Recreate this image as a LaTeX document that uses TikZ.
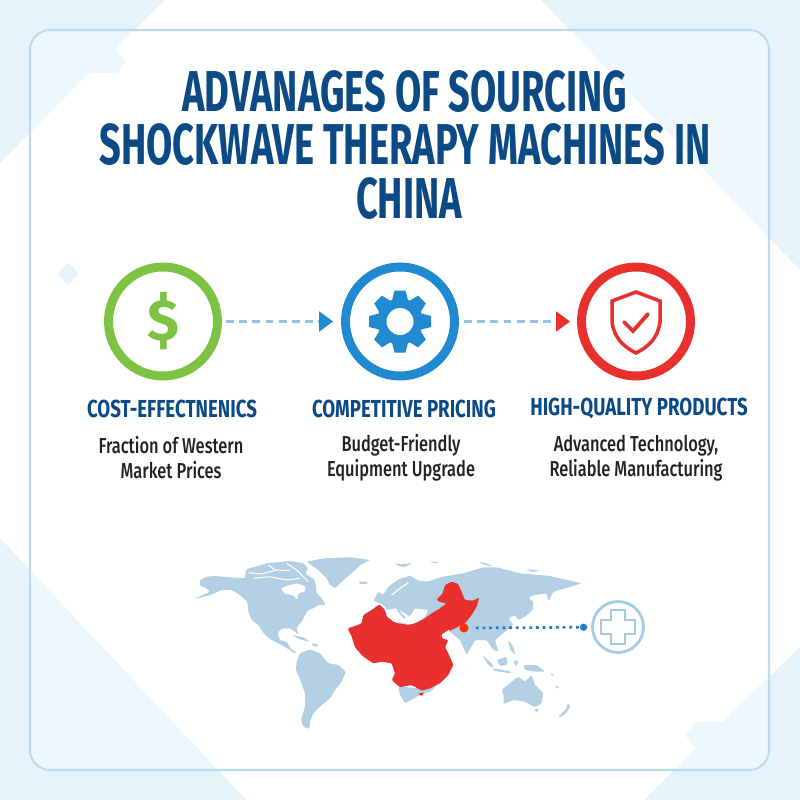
\documentclass[tikz,border=0pt]{standalone}
\usepackage{fontspec}
\usepackage{xcolor}
\usetikzlibrary{arrows.meta,positioning}
\newfontfamily\dinfont[FakeStretch=0.76]{Fira Sans}
\newfontfamily\dintitle[FakeStretch=0.66]{Fira Sans}
\newfontfamily\dinmed[FakeStretch=0.76]{Fira Sans Medium}
\newfontfamily\iconfont{Fira Sans}
\definecolor{bgblue}{HTML}{E7F3FA}
\definecolor{framec}{HTML}{BCDCEE}
\definecolor{navy}{HTML}{0B4A85}
\definecolor{bodyc}{HTML}{222222}
\definecolor{greenc}{HTML}{7DC242}
\definecolor{bluec}{HTML}{2089CF}
\definecolor{redc}{HTML}{E8312F}
\definecolor{mapc}{HTML}{B2CFE3}
\definecolor{plusc}{HTML}{A5CAE3}
\definecolor{dotc}{HTML}{1F7FC4}
\tikzset{ring/.style={circle,draw,line width=5.1pt,minimum size=2.18cm,inner sep=0pt},
  heading/.style={font=\dinfont\bfseries\fontsize{14}{16}\selectfont,text=navy,inner sep=0pt},
  blurb/.style={font=\dinmed\fontsize{12.3}{14.2}\selectfont,text=bodyc,align=center,inner sep=0pt},
  flow/.style={draw=bluec!50,dash pattern=on 4.5pt off 3pt,line width=1.2pt}}

\begin{document}
\begin{tikzpicture}[x=0.02cm,y=-0.02cm]
    \useasboundingbox (0,0) rectangle (800,800);
    % background
    \fill[white] (0,0) rectangle (800,800);
    \fill[bgblue] (0,0) -- (165,0) -- (115,49) -- (126,62) -- (117,73) -- (89,73) -- (0,163) -- cycle;
    \fill[bgblue] (541,0) -- (800,0) -- (800,270) -- cycle;
    \fill[bgblue] (0,538) -- (246,800) -- (0,800) -- cycle;
    \fill[bgblue] (800,647) -- (722,722) -- (696,722) -- (685,735) -- (696,748) -- (644,800) -- (800,800) -- cycle;
    \draw[framec,line width=1.2pt,fill=white,fill opacity=0.25,rounded corners=0.4cm] (30,30) rectangle (769,770);
    \fill[bgblue] (68,263) -- (79,274) -- (68,285) -- (57,274) -- cycle;

    % title
    \node[font=\dintitle\bfseries\fontsize{32.8}{30.7}\selectfont,text=navy,align=center,inner sep=0pt] (title)
        at (405,145) {ADVANAGES OF SOURCING\hspace{5.1pt}\\SHOCKWAVE THERAPY MACHINES IN\\\hspace*{4.6pt}CHINA};

    % icons
    \node[ring,draw=greenc] (cost) at (163,321.5) {};
    \node[ring,draw=bluec] (price) at (400,321.5) {};
    \node[ring,draw=redc] (quality) at (636,321.5) {};
    \node[font=\iconfont\bfseries\fontsize{33}{33}\selectfont,text=greenc,inner sep=0pt] (dollar) at (cost) {\$};

    \fill[bluec] (price) circle (23);
    \fill[white] (price) circle (13.5);
    \foreach \a in {0,45,...,315}
        \fill[bluec,shift={(price)},rotate=\a] (21,-8) -- (31,-5.5) -- (31,5.5) -- (21,8) -- cycle;

    \draw[redc,line width=2pt,line join=miter] (636,292) -- (660,301) -- (660,322) .. controls (658,338) and (648,347) .. (636,353)
        .. controls (624,347) and (614,338) .. (612,322) -- (612,301) -- cycle;
    \draw[redc,line width=2.2pt,line cap=round] (624,322) -- (633,331) -- (648,314);

    % arrows
    \draw[flow,shorten <=0.08cm,shorten >=0.16cm,-{Triangle[color=bluec,length=0.28cm,width=0.4cm]}] (cost) -- (price);
    \draw[flow,shorten <=0.1cm,shorten >=0.14cm,-{Triangle[color=redc,length=0.28cm,width=0.4cm]}] (price) -- (quality);

    % labels
    \node[heading] (h1) at (172,409) {COST-EFFECTNENICS};
    \node[heading] (h2) at (404,409) {COMPETITIVE PRICING};
    \node[heading] (h3) at (639,409) {HIGH-QUALITY PRODUCTS};
    \node[blurb] (b1) at (171,458) {Fraction of Western\\Market Prices};
    \node[blurb] (b2) at (401,458) {Budget-Friendly\\Equipment Upgrade};
    \node[blurb] (b3) at (636,458) {Advanced Technology,\\Reliable Manufacturing};

    % map, americas
    \begin{scope}[shift={(190,550)},x=0.00667cm,y=-0.00667cm,rounded corners=0.7pt]
    \fill[mapc] (30,90) -- (50,80) -- (75,78) -- (120,82) -- (165,85) -- (168,58) -- (230,40) -- (300,33) -- (340,40) -- (355,55) -- (345,70) -- (375,90) -- (378,108) -- (380,130) -- (395,145) -- (408,165) -- (385,165) -- (370,175) -- (355,180) -- (345,195) -- (335,215) -- (320,232) -- (325,255) -- (315,245) -- (300,235) -- (275,235) -- (262,250) -- (270,270) -- (290,275) -- (305,300) -- (320,305) -- (312,310) -- (300,300) -- (275,285) -- (245,270) -- (225,255) -- (205,225) -- (185,210) -- (175,185) -- (172,155) -- (150,135) -- (125,120) -- (95,120) -- (60,135) -- (10,148) -- (60,125) -- (45,112) -- (30,108) -- cycle;
    \fill[white] (272,115) -- (300,105) -- (320,100) -- (345,108) -- (345,125) -- (325,130) -- (322,150) -- (310,135) -- (285,132) -- cycle;
    \draw[white,line width=0.6pt] (175,68) -- (215,72) -- (260,60) -- (300,62) (190,85) -- (240,80) -- (290,90) -- (330,85) (235,45) -- (255,60) (290,40) -- (320,60) -- (355,95);
    \fill[mapc] (350,35) -- (400,25) -- (480,22) -- (540,30) -- (510,45) -- (490,65) -- (455,95) -- (435,115) -- (420,105) -- (410,85) -- (385,60) -- cycle;
    \fill[mapc] (505,95) -- (535,95) -- (530,102) -- (512,103) -- cycle;
    \fill[mapc] (305,255) -- (340,262) -- (360,275) -- (330,268) -- cycle;
    \fill[mapc] (365,280) -- (385,283) -- (382,290) -- (368,288) -- cycle;
    \fill[mapc] (330,310) -- (360,298) -- (390,310) -- (415,340) -- (445,345) -- (468,365) -- (455,395) -- (435,420) -- (420,445) -- (395,465) -- (370,490) -- (360,515) -- (358,537) -- (340,530) -- (333,510) -- (345,470) -- (345,430) -- (335,400) -- (318,360) -- (320,335) -- cycle;
    \end{scope}

    % map, eurasia, africa and china
    \begin{scope}[shift={(340,560)},x=0.00667cm,y=-0.00667cm,rounded corners=0.7pt]
    \fill[mapc] (130,135) -- (100,122) -- (115,95) -- (130,105) -- (145,80) -- (175,58) -- (210,47) -- (235,62) -- (265,65) -- (300,52) -- (370,40) -- (430,22) -- (470,22) -- (540,40) -- (630,48) -- (725,70) -- (675,85) -- (640,95) -- (625,125) -- (620,100) -- (580,105) -- (565,115) -- (580,125) -- (560,160) -- (535,180) -- (525,165) -- (505,175) -- (520,195) -- (495,215) -- (465,240) -- (475,275) -- (460,270) -- (440,240) -- (420,240) -- (405,240) -- (380,285) -- (360,240) -- (330,215) -- (300,230) -- (180,190) -- cycle;
    \fill[white] (140,150) -- (170,145) -- (210,170) -- (225,145) -- (265,150) -- (255,170) -- (220,195) -- (170,185) -- (140,170) -- cycle;
    \draw[mapc,line width=1pt] (172,148) -- (195,175);
    \draw[white,line width=0.7pt] (205,68) -- (180,85) -- (155,105);
    \fill[mapc] (165,12) -- (218,10) -- (190,22) -- cycle;
    \fill[mapc] (270,4) -- (300,6) -- (285,10) -- cycle;
    \fill[mapc] (415,5) -- (445,12) -- (460,20) -- (430,13) -- cycle;
    \fill[mapc] (175,380) -- (250,385) -- (290,378) -- (270,395) -- (240,405) -- (195,430) -- (180,405) -- cycle;
    \fill[redc] (23,205) -- (45,198) -- (65,190) -- (70,165) -- (95,150) -- (118,133) -- (135,150) -- (140,170) -- (165,188) -- (205,195) -- (225,190) -- (250,178) -- (275,160) -- (300,145) -- (320,130) -- (295,125) -- (290,118) -- (308,100) -- (315,75) -- (335,65) -- (355,72) -- (375,120) -- (400,122) -- (418,112) -- (410,140) -- (395,165) -- (375,190) -- (355,200) -- (335,210) -- (310,222) -- (305,235) -- (325,240) -- (315,262) -- (325,280) -- (340,315) -- (325,345) -- (300,370) -- (270,385) -- (245,392) -- (215,375) -- (180,382) -- (155,360) -- (165,340) -- (155,310) -- (125,305) -- (100,310) -- (70,290) -- (45,262) -- (35,230) -- cycle;
    \fill[white] (303,225) -- (330,207) -- (322,232) -- (312,238) -- cycle;
    \fill[redc] (235,400) -- (252,398) -- (248,408) -- (238,405) -- cycle;
    \end{scope}

    % map, east
    \begin{scope}[shift={(450,560)},x=0.00667cm,y=-0.00667cm,rounded corners=0.7pt]
    \fill[mapc] (240,125) -- (250,120) -- (248,150) -- (225,170) -- (205,180) -- (215,165) -- (235,150) -- cycle;
    \fill[mapc] (228,28) -- (270,32) -- (245,36) -- cycle;
    \fill[mapc] (85,5) -- (130,20) -- (105,15) -- cycle;
    \fill[mapc] (175,240) -- (190,260) -- (195,285) -- (180,270) -- cycle;
    \fill[mapc] (97,285) -- (125,310) -- (132,325) -- (115,315) -- cycle;
    \fill[mapc] (140,300) -- (170,290) -- (172,315) -- (150,318) -- cycle;
    \fill[mapc] (130,325) -- (185,335) -- (180,340) -- (130,332) -- cycle;
    \fill[mapc] (190,305) -- (205,300) -- (200,320) -- cycle;
    \fill[mapc] (220,315) -- (260,315) -- (285,335) -- (255,335) -- (225,330) -- cycle;
    \fill[mapc] (300,340) -- (315,345) -- (305,348) -- cycle;
    \fill[mapc] (315,375) -- (330,385) -- (318,385) -- cycle;
    \fill[mapc] (155,390) -- (185,365) -- (205,350) -- (225,365) -- (245,345) -- (255,375) -- (280,400) -- (275,430) -- (255,442) -- (225,425) -- (190,420) -- (160,432) -- (162,410) -- cycle;
    \fill[mapc] (253,445) -- (268,447) -- (260,458) -- cycle;
    \fill[mapc] (325,470) -- (350,445) -- (352,430) -- (362,440) -- (345,462) -- (330,472) -- cycle;
    \end{scope}

    % marker
    \node[circle,fill=red!65!orange,minimum size=0.18cm,inner sep=0pt] (marker) at (464,628) {};
    \node[circle,draw=plusc,line width=1.6pt,minimum size=1.02cm,inner sep=0pt] (plusring) at (618,627) {};
    \draw[plusc,line width=1.6pt,shift={(plusring)}] (-7,-17) -- (7,-17) -- (7,-7) -- (17,-7) -- (17,7) -- (7,7) -- (7,17) -- (-7,17) -- (-7,7) -- (-17,7) -- (-17,-7) -- (-7,-7) -- cycle;
    \draw[dotc,line width=1.5pt,dash pattern=on 1.6pt off 2.2pt,shorten <=0.14cm,shorten >=0.08cm,-{Circle[length=0.14cm,width=0.14cm]}] (marker) -- (plusring);
\end{tikzpicture}
\end{document}
